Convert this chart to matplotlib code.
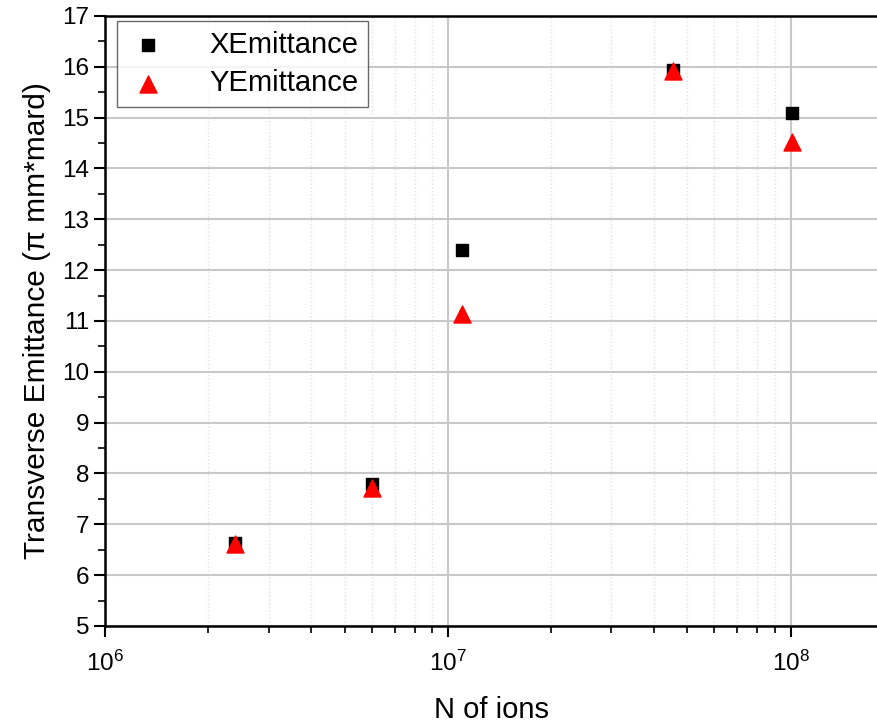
import matplotlib.pyplot as plt
import numpy as np

plt.rcParams['font.family'] = ['Liberation Sans', 'DejaVu Sans']

# data
n_ions = [2.4e6, 6.0e6, 1.1e7, 4.55e7, 1.01e8]
x_emit = [6.63, 7.80, 12.40, 15.93, 15.10]
y_emit = [6.62, 7.72, 11.13, 15.92, 14.52]

fig = plt.figure(figsize=(8.78, 7.25), dpi=100)
ax = fig.add_axes([0.1196, 0.1366, 0.8804, 0.8414])

ax.scatter(n_ions, x_emit, marker='s', s=70, color='black', label='XEmittance', zorder=3)
ax.scatter(n_ions, y_emit, marker='^', s=150, color='red', label='YEmittance', zorder=4)

ax.set_xscale('log')
ax.set_xlim(1e6, 1.8e8)
ax.set_ylim(5, 17)
ax.set_yticks(np.arange(5, 18, 1))
ax.set_yticks(np.arange(5.5, 17, 1), minor=True)

ax.grid(True, which='major', color='#c8c8c8', linewidth=1.5)
ax.grid(True, which='minor', axis='x', color='#e0e0e0', linestyle=':', linewidth=1)
ax.set_axisbelow(True)

ax.spines['right'].set_visible(False)
for s in ['left', 'bottom', 'top']:
    ax.spines[s].set_linewidth(1.8)

ax.tick_params(which='major', direction='out', length=8, width=1.5, labelsize=17.5)
ax.tick_params(which='minor', direction='out', length=5, width=1.2)
ax.tick_params(axis='x', which='major', pad=10)

ax.set_xlabel('N of ions', fontsize=21, labelpad=14)
ax.set_ylabel('Transverse Emittance (π mm*mard)', fontsize=21.5, labelpad=8)

leg = ax.legend(loc='upper left', bbox_to_anchor=(0.0155, 0.992), borderaxespad=0,
                fontsize=21, frameon=True, fancybox=False, edgecolor='#444444',
                handletextpad=1.4, borderpad=0.35, labelspacing=0.35,
                handlelength=1.4, scatterpoints=1)
leg.get_frame().set_linewidth(1.0)

fig.savefig('out.png', dpi=100)
